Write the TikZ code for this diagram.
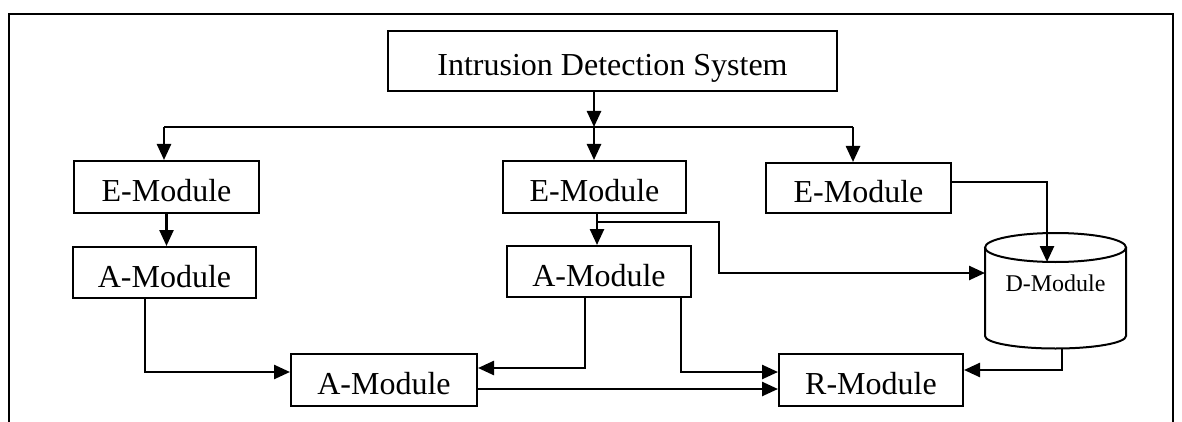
\documentclass[tikz,border=0pt]{standalone}
\usepackage{fontspec}
\setmainfont{Liberation Serif}
\usetikzlibrary{arrows.meta}

\begin{document}
\begin{tikzpicture}[x=1pt,y=-1pt,
  box/.style={draw, line width=2pt, inner sep=0pt, text height=29pt, text depth=0pt,
    font=\fontsize{32pt}{38pt}\selectfont},
  link/.style={line width=2.5pt},
  arr/.style={link, -{Triangle[length=16pt,width=14pt]}},
]
\useasboundingbox (0,0) rectangle (1182,422);

% outer frame, open at the bottom
\draw[line width=2pt] (9,440) -- (9,14) -- (1173,14) -- (1173,440);

% modules
\node[box, minimum width=449pt, minimum height=60pt] (ids) at (612.5,61) {Intrusion Detection System};
\node[box, minimum width=185pt, minimum height=52pt] (e1) at (166.5,187) {E-Module};
\node[box, minimum width=183pt, minimum height=52pt] (e2) at (594.5,187) {E-Module};
\node[box, minimum width=185pt, minimum height=50pt] (e3) at (858.5,188) {E-Module};
\node[box, minimum width=183pt, minimum height=51pt] (a1) at (164.5,272.5) {A-Module};
\node[box, minimum width=184pt, minimum height=51pt] (a2) at (599,271.5) {A-Module};
\node[box, minimum width=186pt, minimum height=52pt] (a3) at (384,380) {A-Module};
\node[box, minimum width=184pt, minimum height=52pt] (r) at (871,380) {R-Module};

% database cylinder
\draw[line width=2pt]
  (985,247.5) -- (985,336)
  .. controls (985,342.9) and (1016.6,348.5) .. (1055.5,348.5)
  .. controls (1094.4,348.5) and (1126,342.9) .. (1126,336)
  -- (1126,247.5);
\draw[line width=2pt] (1055.5,247.5) ellipse [x radius=70.5pt, y radius=14.5pt];
\node[inner sep=0pt, font=\fontsize{24pt}{28pt}\selectfont] (d) at (1055.5,283) {D-Module};
\coordinate (dleft) at (985,273);
\coordinate (dtop) at (1047,262);
\coordinate (dbot) at (1062,348.5);

% distribution bus from the system to the event modules
\coordinate (bus) at (594,127);
\coordinate (busL) at (164,127);
\coordinate (busR) at (853,127);
\draw[arr] (ids.south -| bus) -- (bus);
\draw[link] (busL) -- (busR);
\draw[arr] (busL) -- (busL |- e1.north);
\draw[arr] (bus) -- (bus |- e2.north);
\draw[arr] (busR) -- (busR |- e3.north);

% event modules to analysis modules
\draw[arr] (e1.south) -- (e1.south |- a1.north);
\coordinate (e2o) at (597,213);
\draw[arr] (e2.south -| e2o) -- (e2o |- a2.north);

% event modules to the database
\coordinate (k1) at (597,222);
\coordinate (k2) at (719,222);
\coordinate (k3) at (719,273);
\draw[arr] (k1) -- (k2) -- (k3) -- (dleft);
\coordinate (k4) at (1047,182);
\draw[arr] (e3.east |- k4) -- (k4) -- (dtop);

% analysis modules to the combining analysis module
\coordinate (j1) at (145,372);
\draw[arr] (a1.south -| j1) -- (j1) -- (a3.west |- j1);
\coordinate (j2) at (585,368);
\draw[arr] (a2.south -| j2) -- (j2) -- (a3.east |- j2);

% to the response module
\coordinate (j3) at (681,372);
\draw[arr] (a2.south -| j3) -- (j3) -- (r.west |- j3);
\coordinate (j4) at (0,389);
\draw[arr] (a3.east |- j4) -- (r.west |- j4);
\coordinate (j5) at (1062,370);
\draw[arr] (dbot) -- (j5) -- (r.east |- j5);
\end{tikzpicture}
\end{document}
